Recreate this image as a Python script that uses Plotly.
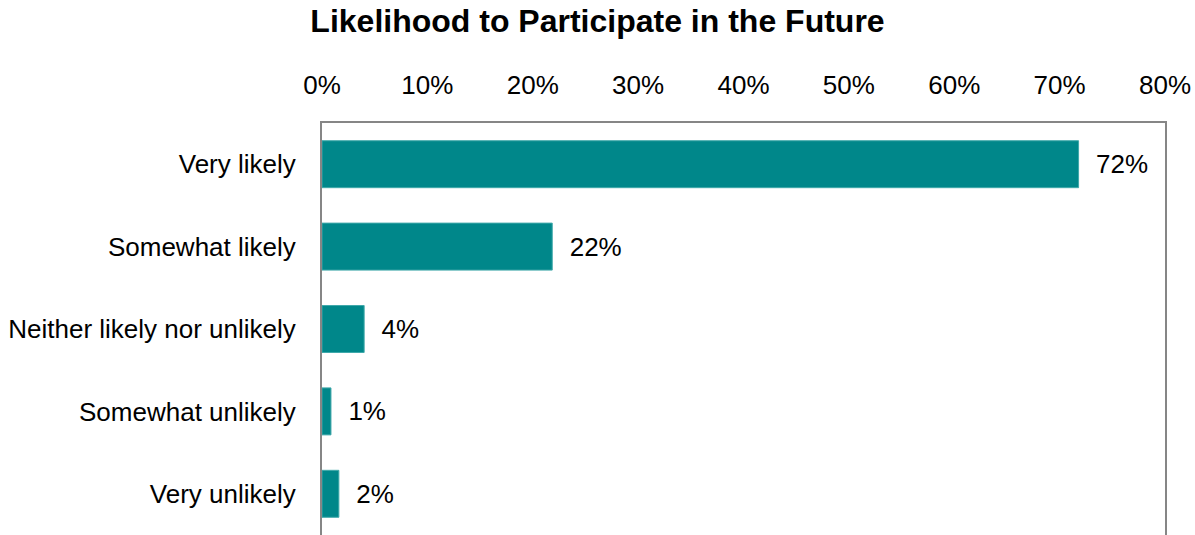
import plotly.graph_objects as go

categories = ["Very likely", "Somewhat likely", "Neither likely nor unlikely", "Somewhat unlikely", "Very unlikely"]
values = [71.8, 21.85, 4.0, 0.85, 1.6]
labels = ["72%", "22%", "4%", "1%", "2%"]
tick_vals = [0, 10, 20, 30, 40, 50, 60, 70, 80]
tick_text = ["0%", "10%", "20%", "30%", "40%", "50%", "60%", "70%", "80%"]

FONT = "Liberation Sans, Arial, sans-serif"
FS = 26

fig = go.Figure(go.Bar(
    x=values, y=categories, orientation="h",
    marker=dict(color="#00878A", line=dict(color="#3FA8AA", width=1)),
    text=["  " + t for t in labels], textposition="outside",
    textfont=dict(family=FONT, size=FS, color="#000000"),
    cliponaxis=False, width=0.57,
))

fig.update_layout(
    width=1195, height=535,
    margin=dict(l=322, r=30, t=123, b=0),
    paper_bgcolor="white", plot_bgcolor="white",
    font=dict(family=FONT, size=FS, color="#000000"),
    title=dict(text="<b>Likelihood to Participate in the Future</b>",
               x=0.5, xanchor="center", y=0.961, yanchor="middle",
               font=dict(family=FONT, size=32, color="#000000")),
    showlegend=False,
    xaxis=dict(side="top", range=[0, 80], tickvals=tick_vals, ticktext=tick_text,
               showgrid=False, zeroline=False, showline=True, mirror=False,
               linecolor="#868686", linewidth=2, ticks="", ticklabelstandoff=17,
               tickfont=dict(family=FONT, size=FS, color="#000000")),
    yaxis=dict(autorange="reversed", showgrid=False, zeroline=False, showline=True,
               mirror=True, linecolor="#868686", linewidth=2, ticks="",
               ticklabelstandoff=19,
               tickfont=dict(family=FONT, size=FS, color="#000000")),
)

fig.write_html("out.html")
